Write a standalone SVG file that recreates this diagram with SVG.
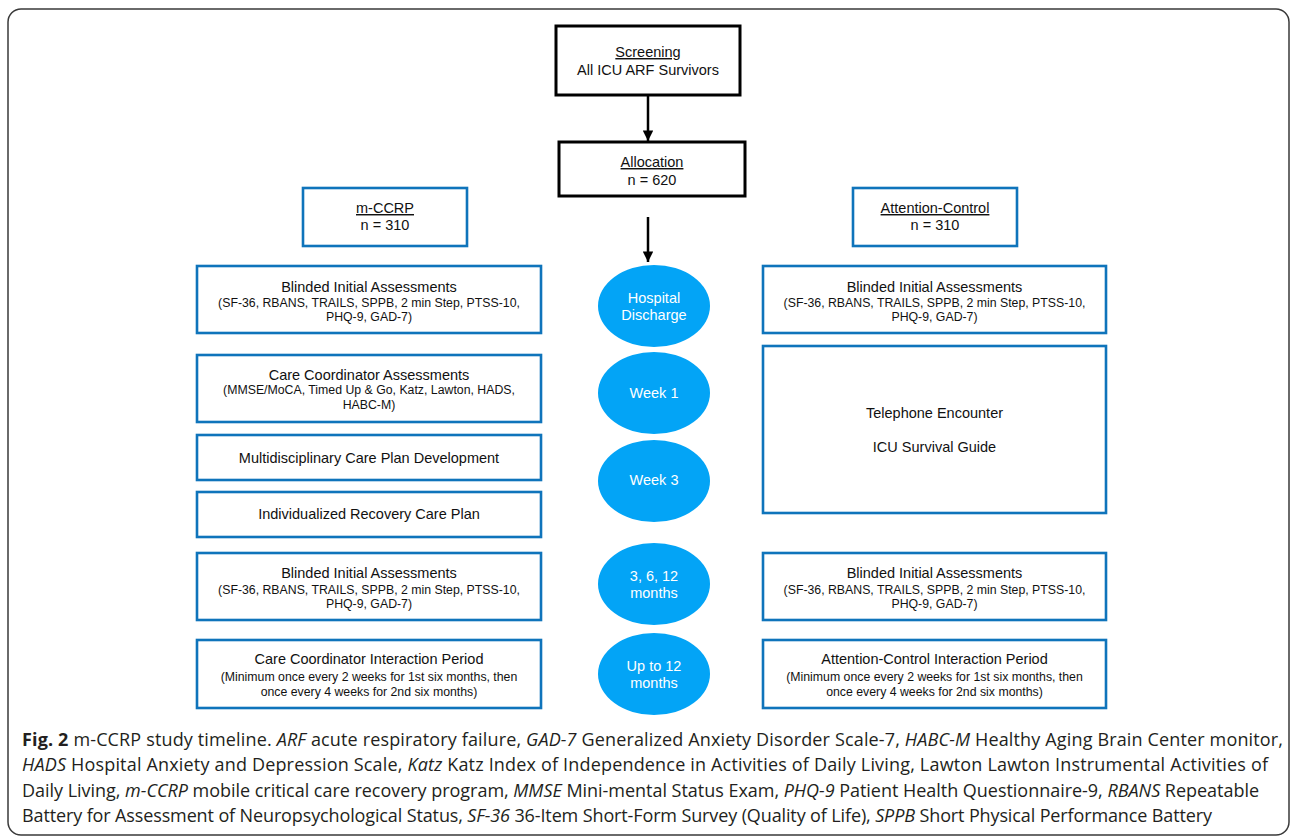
<svg xmlns="http://www.w3.org/2000/svg" width="1292" height="839" viewBox="0 0 1292 839">
<defs>
<style>
.frame{fill:#fff;stroke:#3a3a3a;stroke-width:1.5}
.bk{fill:#fff;stroke:#000;stroke-width:3}
.bl{fill:#fff;stroke:#0f74bb;stroke-width:2.6}
.el{fill:#03a4f6}
.t{font-family:"Liberation Sans",Arial,sans-serif;fill:#111;text-anchor:middle}
.h{font-size:14.5px}
.s{font-size:12.3px}
.w{font-family:"Liberation Sans",Arial,sans-serif;fill:#fff;text-anchor:middle;font-size:14.5px}
.u{text-decoration:underline}
.cap{font-family:"Open Sans","Noto Sans",sans-serif;font-size:18px;fill:#231f20}
.i{font-style:italic}
.b{font-weight:bold}
.con{stroke:#000;stroke-width:2.5;fill:none}
</style>
<marker id="arr" viewBox="0 0 10 10" refX="10" refY="5" markerWidth="4.6" markerHeight="4.2" orient="auto" markerUnits="strokeWidth">
<path d="M0,0 L10,5 L0,10 z" fill="#000"/>
</marker>
</defs>
<rect class="frame" x="8" y="9" width="1281" height="826" rx="13"/>

<g id="connectors">
<line class="con" x1="648" y1="96" x2="648" y2="141" marker-end="url(#arr)"/>
<line class="con" x1="648" y1="217" x2="648" y2="262" marker-end="url(#arr)"/>
</g>

<g id="screening">
<rect class="bk" x="556" y="26" width="184" height="69"/>
<text class="t h" x="648" y="57"><tspan class="u">Screening</tspan></text>
<text class="t h" x="648" y="75">All ICU ARF Survivors</text>
</g>
<g id="allocation">
<rect class="bk" x="559" y="142" width="186" height="54"/>
<text class="t h" x="652" y="167"><tspan class="u">Allocation</tspan></text>
<text class="t h" x="652" y="185">n = 620</text>
</g>
<g id="mccrp">
<rect class="bl" x="303" y="188" width="164" height="58"/>
<text class="t h" x="385" y="213"><tspan class="u">m-CCRP</tspan></text>
<text class="t h" x="385" y="230">n = 310</text>
</g>
<g id="attention">
<rect class="bl" x="853" y="188" width="164" height="58"/>
<text class="t h" x="935" y="213"><tspan class="u">Attention-Control</tspan></text>
<text class="t h" x="935" y="230">n = 310</text>
</g>

<g id="left-blinded-1">
<rect class="bl" x="197" y="266" width="344" height="67"/>
<text class="t h" x="369" y="292">Blinded Initial Assessments</text>
<text class="t s" x="369" y="307">(SF-36, RBANS, TRAILS, SPPB, 2 min Step, PTSS-10,</text>
<text class="t s" x="369" y="321">PHQ-9, GAD-7)</text>
</g>
<g id="left-cc-assess">
<rect class="bl" x="197" y="355" width="344" height="67"/>
<text class="t h" x="369" y="380">Care Coordinator Assessments</text>
<text class="t s" x="369" y="394">(MMSE/MoCA, Timed Up &amp; Go, Katz, Lawton, HADS,</text>
<text class="t s" x="369" y="409">HABC-M)</text>
</g>
<g id="left-multi">
<rect class="bl" x="197" y="435" width="344" height="45"/>
<text class="t h" x="369" y="463">Multidisciplinary Care Plan Development</text>
</g>
<g id="left-indiv">
<rect class="bl" x="197" y="492" width="344" height="45"/>
<text class="t h" x="369" y="519">Individualized Recovery Care Plan</text>
</g>
<g id="left-blinded-2">
<rect class="bl" x="197" y="553" width="344" height="67"/>
<text class="t h" x="369" y="578">Blinded Initial Assessments</text>
<text class="t s" x="369" y="594">(SF-36, RBANS, TRAILS, SPPB, 2 min Step, PTSS-10,</text>
<text class="t s" x="369" y="608">PHQ-9, GAD-7)</text>
</g>
<g id="left-interaction">
<rect class="bl" x="197" y="640" width="344" height="68"/>
<text class="t h" x="369" y="664">Care Coordinator Interaction Period</text>
<text class="t s" x="369" y="681">(Minimum once every 2 weeks for 1st six months, then</text>
<text class="t s" x="369" y="696">once every 4 weeks for 2nd six months)</text>
</g>

<g id="right-blinded-1">
<rect class="bl" x="763" y="266" width="343" height="67"/>
<text class="t h" x="934.5" y="292">Blinded Initial Assessments</text>
<text class="t s" x="934.5" y="307">(SF-36, RBANS, TRAILS, SPPB, 2 min Step, PTSS-10,</text>
<text class="t s" x="934.5" y="321">PHQ-9, GAD-7)</text>
</g>
<g id="right-telephone">
<rect class="bl" x="763" y="346" width="343" height="167"/>
<text class="t h" x="934.5" y="418">Telephone Encounter</text>
<text class="t h" x="934.5" y="452">ICU Survival Guide</text>
</g>
<g id="right-blinded-2">
<rect class="bl" x="763" y="553" width="343" height="67"/>
<text class="t h" x="934.5" y="578">Blinded Initial Assessments</text>
<text class="t s" x="934.5" y="594">(SF-36, RBANS, TRAILS, SPPB, 2 min Step, PTSS-10,</text>
<text class="t s" x="934.5" y="608">PHQ-9, GAD-7)</text>
</g>
<g id="right-interaction">
<rect class="bl" x="763" y="640" width="343" height="68"/>
<text class="t h" x="934.5" y="664">Attention-Control Interaction Period</text>
<text class="t s" x="934.5" y="681">(Minimum once every 2 weeks for 1st six months, then</text>
<text class="t s" x="934.5" y="696">once every 4 weeks for 2nd six months)</text>
</g>

<g id="t-discharge">
<ellipse class="el" cx="654" cy="306" rx="56" ry="41"/>
<text class="w" x="654" y="303">Hospital</text>
<text class="w" x="654" y="320">Discharge</text>
</g>
<g id="t-week1">
<ellipse class="el" cx="654" cy="393" rx="56" ry="41"/>
<text class="w" x="654" y="398">Week 1</text>
</g>
<g id="t-week3">
<ellipse class="el" cx="654" cy="481" rx="56" ry="41"/>
<text class="w" x="654" y="485">Week 3</text>
</g>
<g id="t-3-6-12">
<ellipse class="el" cx="654" cy="584" rx="56" ry="41"/>
<text class="w" x="654" y="581">3, 6, 12</text>
<text class="w" x="654" y="598">months</text>
</g>
<g id="t-up-to-12">
<ellipse class="el" cx="654" cy="674" rx="56" ry="41"/>
<text class="w" x="654" y="671">Up to 12</text>
<text class="w" x="654" y="688">months</text>
</g>

<g id="caption">
<text class="cap" x="22" y="746" textLength="1261" lengthAdjust="spacing"><tspan class="b">Fig. 2</tspan> m-CCRP study timeline. <tspan class="i">ARF</tspan> acute respiratory failure, <tspan class="i">GAD-7</tspan> Generalized Anxiety Disorder Scale-7, <tspan class="i">HABC-M</tspan> Healthy Aging Brain Center monitor,</text>
<text class="cap" x="22" y="771" textLength="1246" lengthAdjust="spacing"><tspan class="i">HADS</tspan> Hospital Anxiety and Depression Scale, <tspan class="i">Katz</tspan> Katz Index of Independence in Activities of Daily Living, Lawton Lawton Instrumental Activities of</text>
<text class="cap" x="22" y="797" textLength="1237" lengthAdjust="spacing">Daily Living, <tspan class="i">m-CCRP</tspan> mobile critical care recovery program, <tspan class="i">MMSE</tspan> Mini-mental Status Exam, <tspan class="i">PHQ-9</tspan> Patient Health Questionnaire-9, <tspan class="i">RBANS</tspan> Repeatable</text>
<text class="cap" x="22" y="822" textLength="1190" lengthAdjust="spacing">Battery for Assessment of Neuropsychological Status, <tspan class="i">SF-36</tspan> 36-Item Short-Form Survey (Quality of Life), <tspan class="i">SPPB</tspan> Short Physical Performance Battery</text>
</g>
</svg>
